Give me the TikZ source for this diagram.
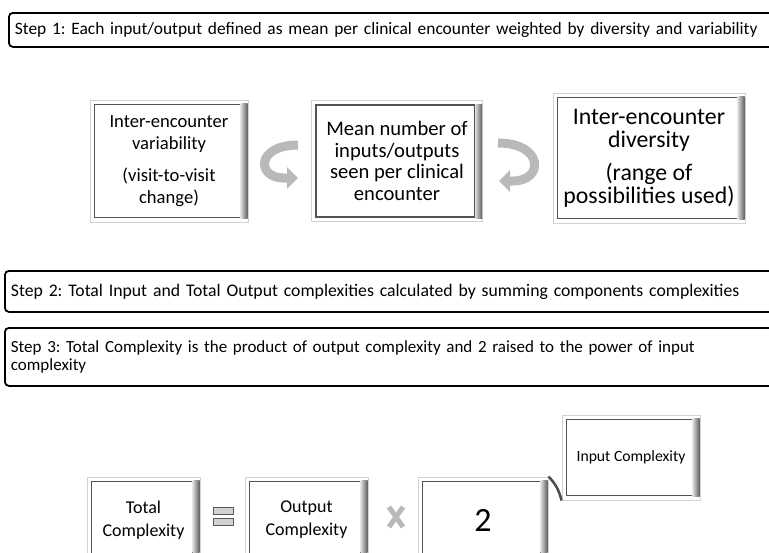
\documentclass[tikz,border=0pt]{standalone}
\usepackage{fontspec}
\setmainfont{Carlito}
\frenchspacing
\usetikzlibrary{arrows.meta}
\tikzset{
  stepbox/.style={draw=black, line width=1.8pt, rounded corners=4pt, fill=white,
    anchor=north west, align=left, text width=830, inner xsep=6pt,
    font=\fontsize{17.4}{18}\selectfont},
  card/.style={draw=gray!35, line width=1pt, fill=white, align=center, inner sep=0pt},
  curl/.style={gray!55, line width=9pt, -{Triangle[width=21pt,length=11pt]}},
  bar/.style={draw=gray!70!black, fill=gray!35, line width=0.8pt},
}
\begin{document}
\begin{tikzpicture}[x=1pt,y=-1pt]
  \useasboundingbox (0,0) rectangle (769,552);
  \clip (0,0) rectangle (769,552);

  \node[stepbox, minimum height=34] (step1) at (8,12)
    {Step 1: Each input/output defined as mean per clinical encounter weighted by diversity and variability};

  \node[card, minimum width=158, minimum height=122, font=\fontsize{18.6}{22.5}\selectfont] (var) at (169,161)
    {Inter-encounter\\variability\\[9pt](visit-to-visit\\change)};
  \node[card, minimum width=171, minimum height=121, font=\fontsize{20.6}{21.7}\selectfont] (mean) at (397,161)
    {Mean number of\\inputs/outputs\\seen per clinical\\encounter};
  \node[card, minimum width=192, minimum height=130, font=\fontsize{23.8}{23}\selectfont] (div) at (649,158)
    {Inter-encounter\\diversity\\[10pt](range of\\possibilities used)};

  \coordinate (c1a) at (298,145);
  \coordinate (c1b) at (298,178);
  \draw[curl] (c1a) .. controls (256,145) and (256,178) .. (284,178) -- (c1b);
  \coordinate (c2a) at (498,143);
  \coordinate (c2b) at (499,181);
  \draw[curl] (c2a) .. controls (544,143) and (544,181) .. (513,181) -- (c2b);

  \node[stepbox, minimum height=41, font=\fontsize{17.7}{18}\selectfont] (step2) at (4,270)
    {Step 2: Total Input and Total Output complexities calculated by summing components complexities};
  \node[stepbox, minimum height=58, font=\fontsize{17}{18}\selectfont] (step3) at (4,327)
    {Step 3: Total Complexity is the product of output complexity and 2 raised to the power of input\\complexity};

  \node[card, minimum width=113, minimum height=86, font=\fontsize{18}{23}\selectfont] (total) at (143.5,520)
    {Total\\Complexity};
  \node[card, minimum width=123, minimum height=86, font=\fontsize{18}{23}\selectfont] (out) at (306.5,520)
    {Output\\Complexity};
  \node[card, minimum width=130, minimum height=86, font=\fontsize{34}{34}\selectfont] (two) at (483,520)
    {2};
  \node[card, minimum width=138, minimum height=85, font=\fontsize{15.7}{18}\selectfont] (inp) at (631,457.5)
    {Input Complexity};

  \foreach \n in {var,mean,div,total,out,two,inp} {
    \draw[gray!65!black, line width=1.4pt] ([shift={(5,5)}]\n.north west) rectangle ([shift={(-8,-5)}]\n.south east);
    \shade[left color=gray!25, right color=gray!75!black] ([shift={(-8,4)}]\n.north east) rectangle ([shift={(-1,-4)}]\n.south east);
  }

  \draw[bar] (213,507) rectangle (233,514);
  \draw[bar] (213,518) rectangle (233,525);
  \draw[gray!55, line width=5pt] (389,507) -- (403,527) (403,507) -- (389,527);

  \draw[gray!60!black, line width=2.5pt] (two.north east) to[bend left=15] (inp.south west);
\end{tikzpicture}
\end{document}
